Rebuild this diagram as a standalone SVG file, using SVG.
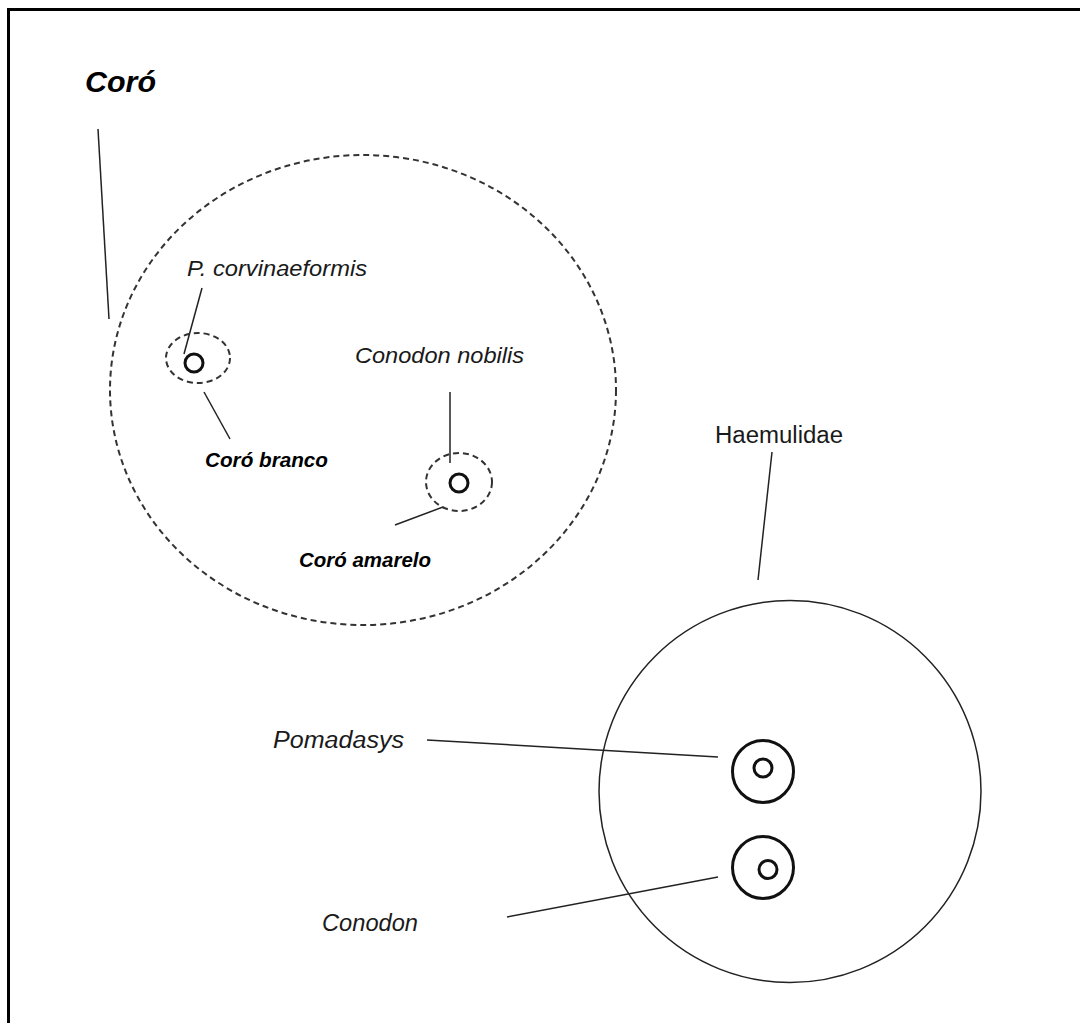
<svg xmlns="http://www.w3.org/2000/svg" width="1080" height="1023" viewBox="0 0 1080 1023">
  <style>
    text { font-family: "Liberation Sans", Arial, sans-serif; fill: #1a1a1a; }
    .it { font-style: italic; }
    .bi { font-style: italic; font-weight: bold; fill: #000; }
    .rg { font-style: normal; }
    .lead { stroke: #222; stroke-width: 1.5; fill: none; }
    .dash { stroke: #333; stroke-width: 2; fill: none; stroke-dasharray: 6 4; }
    .ring { stroke: #111; stroke-width: 3; fill: none; }
    .thin { stroke: #222; stroke-width: 1.5; fill: none; }
  </style>

  <rect width="1080" height="1023" fill="#fff"/>
  <!-- frame (open on right and bottom) -->
  <path d="M8.5,1023 V9.5 H1080" stroke="#000" stroke-width="3" fill="none"/>

  <!-- connectors -->
  <g id="connectors">
    <line class="lead" x1="98" y1="129" x2="109" y2="319"/>
    <line class="lead" x1="202" y1="288" x2="184" y2="354"/>
    <line class="lead" x1="204" y1="392" x2="230" y2="439"/>
    <line class="lead" x1="450" y1="392" x2="450" y2="463"/>
    <line class="lead" x1="395" y1="525" x2="443" y2="507"/>
    <line class="lead" x1="772" y1="452" x2="758" y2="580"/>
    <line class="lead" x1="427" y1="740" x2="718" y2="757"/>
    <line class="lead" x1="507" y1="917" x2="718" y2="877"/>
  </g>

  <!-- Coró group -->
  <g id="coro">
    <ellipse class="dash" cx="363" cy="390" rx="253" ry="235"/>
    <text class="bi" x="85" y="92" font-size="29" textLength="71" lengthAdjust="spacingAndGlyphs">Coró</text>
  </g>

  <g id="coro-branco">
    <ellipse class="dash" cx="198" cy="358" rx="32" ry="25"/>
    <circle class="ring" cx="194" cy="363" r="9"/>
    <text class="it" x="187" y="276" font-size="22" textLength="180" lengthAdjust="spacingAndGlyphs">P. corvinaeformis</text>
    <text class="bi" x="205" y="467" font-size="20" textLength="123" lengthAdjust="spacingAndGlyphs">Coró branco</text>
  </g>

  <g id="coro-amarelo">
    <ellipse class="dash" cx="459" cy="482" rx="33" ry="29"/>
    <circle class="ring" cx="459" cy="483" r="9"/>
    <text class="it" x="355" y="363" font-size="22" textLength="169" lengthAdjust="spacingAndGlyphs">Conodon nobilis</text>
    <text class="bi" x="299" y="567" font-size="20" textLength="132" lengthAdjust="spacingAndGlyphs">Coró amarelo</text>
  </g>

  <!-- Haemulidae group -->
  <g id="haemulidae">
    <circle class="thin" cx="790" cy="791.5" r="191"/>
    <text class="rg" x="715" y="443" font-size="23" textLength="128" lengthAdjust="spacingAndGlyphs">Haemulidae</text>
  </g>

  <g id="pomadasys">
    <ellipse class="ring" cx="763" cy="771.5" rx="30.5" ry="31"/>
    <circle class="ring" cx="763" cy="768" r="9"/>
    <text class="it" x="273" y="748" font-size="23" textLength="131" lengthAdjust="spacingAndGlyphs">Pomadasys</text>
  </g>

  <g id="conodon">
    <ellipse class="ring" cx="763" cy="867.5" rx="30.5" ry="31"/>
    <circle class="ring" cx="768" cy="869.5" r="9"/>
    <text class="it" x="322" y="931" font-size="23" textLength="96" lengthAdjust="spacingAndGlyphs">Conodon</text>
  </g>
</svg>
